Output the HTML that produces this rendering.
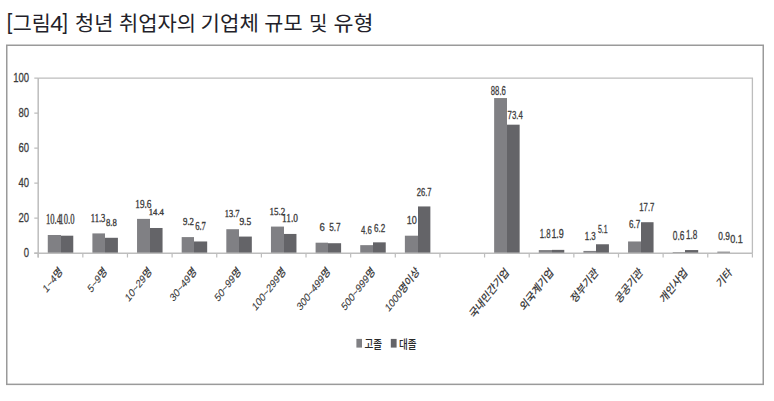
<!DOCTYPE html><html><head><meta charset="utf-8"><title>청년 취업자의 기업체 규모 및 유형</title><style>html,body{margin:0;padding:0;background:#fff;width:774px;height:401px;overflow:hidden}svg{display:block}</style></head><body>
<svg width="774" height="401" viewBox="0 0 774 401">
<rect width="774" height="401" fill="#fff"/>
<text x="6.68" y="28.60" font-family="'Liberation Sans',sans-serif" font-size="22.5" font-weight="400" fill="#231f2a" textLength="5.54" lengthAdjust="spacingAndGlyphs">[</text>
<text x="12.78" y="31.20" font-family="'Noto Sans CJK KR',sans-serif" font-size="20.5" font-weight="400" fill="#231f2a" textLength="38.07" lengthAdjust="spacingAndGlyphs">그림</text>
<text x="50.32" y="31.10" font-family="'Liberation Sans',sans-serif" font-size="22.3" font-weight="400" fill="#231f2a" textLength="12.84" lengthAdjust="spacingAndGlyphs">4</text>
<text x="62.62" y="28.60" font-family="'Liberation Sans',sans-serif" font-size="22.5" font-weight="400" fill="#231f2a" textLength="5.31" lengthAdjust="spacingAndGlyphs">]</text>
<text x="75.01" y="31.20" font-family="'Noto Sans CJK KR',sans-serif" font-size="20.5" font-weight="400" fill="#231f2a" textLength="38.35" lengthAdjust="spacingAndGlyphs">청년</text>
<text x="119.07" y="31.20" font-family="'Noto Sans CJK KR',sans-serif" font-size="20.5" font-weight="400" fill="#231f2a" textLength="77.09" lengthAdjust="spacingAndGlyphs">취업자의</text>
<text x="200.58" y="31.20" font-family="'Noto Sans CJK KR',sans-serif" font-size="20.5" font-weight="400" fill="#231f2a" textLength="58.24" lengthAdjust="spacingAndGlyphs">기업체</text>
<text x="264.38" y="31.20" font-family="'Noto Sans CJK KR',sans-serif" font-size="20.5" font-weight="400" fill="#231f2a" textLength="38.20" lengthAdjust="spacingAndGlyphs">규모</text>
<text x="309.02" y="31.20" font-family="'Noto Sans CJK KR',sans-serif" font-size="20.5" font-weight="400" fill="#231f2a" textLength="18.53" lengthAdjust="spacingAndGlyphs">및</text>
<text x="333.51" y="31.20" font-family="'Noto Sans CJK KR',sans-serif" font-size="20.5" font-weight="400" fill="#231f2a" textLength="40.02" lengthAdjust="spacingAndGlyphs">유형</text>
<rect x="6.75" y="45.25" width="756.5" height="339.1" fill="none" stroke="#9a9a9a" stroke-width="1.5"/>
<path d="M38.2 78.1H752.4V253.2" fill="none" stroke="#bdbdbd" stroke-width="1.3"/>
<rect x="47.77" y="234.99" width="13.23" height="18.21" fill="#808084"/>
<rect x="61.00" y="235.69" width="12.27" height="17.51" fill="#646468"/>
<rect x="92.40" y="233.41" width="12.60" height="19.79" fill="#808084"/>
<rect x="105.00" y="237.79" width="12.91" height="15.41" fill="#646468"/>
<rect x="137.04" y="218.88" width="12.96" height="34.32" fill="#808084"/>
<rect x="150.00" y="227.99" width="12.55" height="25.21" fill="#646468"/>
<rect x="181.68" y="237.09" width="12.32" height="16.11" fill="#808084"/>
<rect x="194.00" y="241.47" width="13.18" height="11.73" fill="#646468"/>
<rect x="226.32" y="229.21" width="12.68" height="23.99" fill="#808084"/>
<rect x="239.00" y="236.57" width="12.82" height="16.63" fill="#646468"/>
<rect x="270.95" y="226.58" width="13.05" height="26.62" fill="#808084"/>
<rect x="284.00" y="233.94" width="12.46" height="19.26" fill="#646468"/>
<rect x="315.59" y="242.69" width="12.41" height="10.51" fill="#808084"/>
<rect x="328.00" y="243.22" width="13.10" height="9.98" fill="#646468"/>
<rect x="360.23" y="245.15" width="12.77" height="8.05" fill="#808084"/>
<rect x="373.00" y="242.34" width="12.73" height="10.86" fill="#646468"/>
<rect x="404.87" y="235.69" width="13.13" height="17.51" fill="#808084"/>
<rect x="418.00" y="206.45" width="12.37" height="46.75" fill="#646468"/>
<rect x="494.14" y="98.06" width="12.86" height="155.14" fill="#808084"/>
<rect x="507.00" y="124.68" width="12.65" height="128.52" fill="#646468"/>
<rect x="538.78" y="250.05" width="13.22" height="3.15" fill="#808084"/>
<rect x="552.00" y="249.87" width="12.28" height="3.33" fill="#646468"/>
<rect x="583.42" y="250.92" width="12.58" height="2.28" fill="#808084"/>
<rect x="596.00" y="244.27" width="12.92" height="8.93" fill="#646468"/>
<rect x="628.05" y="241.47" width="12.95" height="11.73" fill="#808084"/>
<rect x="641.00" y="222.21" width="12.56" height="30.99" fill="#646468"/>
<rect x="672.69" y="252.15" width="12.31" height="1.05" fill="#808084"/>
<rect x="685.00" y="250.05" width="13.20" height="3.15" fill="#646468"/>
<rect x="717.33" y="251.62" width="12.67" height="1.58" fill="#808084"/>
<rect x="730.00" y="253.02" width="12.83" height="0.18" fill="#646468"/>
<path d="M38.2 78.1V257.59999999999997M34.300000000000004 253.2H752.4" fill="none" stroke="#bdbdbd" stroke-width="1.5"/>
<path d="M34.300000000000004 253.20H38.2M34.300000000000004 218.18H38.2M34.300000000000004 183.16H38.2M34.300000000000004 148.14H38.2M34.300000000000004 113.12H38.2M34.300000000000004 78.10H38.2M38.20 253.2V257.59999999999997M82.84 253.2V257.59999999999997M127.47 253.2V257.59999999999997M172.11 253.2V257.59999999999997M216.75 253.2V257.59999999999997M261.39 253.2V257.59999999999997M306.02 253.2V257.59999999999997M350.66 253.2V257.59999999999997M395.30 253.2V257.59999999999997M439.94 253.2V257.59999999999997M484.57 253.2V257.59999999999997M529.21 253.2V257.59999999999997M573.85 253.2V257.59999999999997M618.49 253.2V257.59999999999997M663.12 253.2V257.59999999999997M707.76 253.2V257.59999999999997M752.40 253.2V257.59999999999997" fill="none" stroke="#bdbdbd" stroke-width="1.2"/>
<text transform="translate(29.10 256.70) scale(0.72 1)" text-anchor="end" font-family="'Liberation Sans','Noto Sans CJK KR',sans-serif" font-size="13.2" fill="#3a3a3a" stroke="#3a3a3a" stroke-width="0.3">0</text>
<text transform="translate(29.10 221.68) scale(0.72 1)" text-anchor="end" font-family="'Liberation Sans','Noto Sans CJK KR',sans-serif" font-size="13.2" fill="#3a3a3a" stroke="#3a3a3a" stroke-width="0.3">20</text>
<text transform="translate(29.10 186.66) scale(0.72 1)" text-anchor="end" font-family="'Liberation Sans','Noto Sans CJK KR',sans-serif" font-size="13.2" fill="#3a3a3a" stroke="#3a3a3a" stroke-width="0.3">40</text>
<text transform="translate(29.10 151.64) scale(0.72 1)" text-anchor="end" font-family="'Liberation Sans','Noto Sans CJK KR',sans-serif" font-size="13.2" fill="#3a3a3a" stroke="#3a3a3a" stroke-width="0.3">60</text>
<text transform="translate(29.10 116.62) scale(0.72 1)" text-anchor="end" font-family="'Liberation Sans','Noto Sans CJK KR',sans-serif" font-size="13.2" fill="#3a3a3a" stroke="#3a3a3a" stroke-width="0.3">80</text>
<text transform="translate(29.10 81.60) scale(0.72 1)" text-anchor="end" font-family="'Liberation Sans','Noto Sans CJK KR',sans-serif" font-size="13.2" fill="#3a3a3a" stroke="#3a3a3a" stroke-width="0.3">100</text>
<text x="45.92" y="224.40" font-family="'Liberation Serif',serif" font-size="14.17" fill="#3c3c3c" stroke="#3c3c3c" stroke-width="0.35" textLength="15.08" lengthAdjust="spacingAndGlyphs">10.4</text>
<text x="59.37" y="224.40" font-family="'Liberation Serif',serif" font-size="14.17" fill="#3c3c3c" stroke="#3c3c3c" stroke-width="0.35" textLength="15.08" lengthAdjust="spacingAndGlyphs">10.0</text>
<text x="90.78" y="221.60" font-family="'Liberation Serif',serif" font-size="11.53" fill="#3c3c3c" stroke="#3c3c3c" stroke-width="0.35" textLength="14.63" lengthAdjust="spacingAndGlyphs">11.3</text>
<text x="106.00" y="226.00" font-family="'Liberation Serif',serif" font-size="11.23" fill="#3c3c3c" stroke="#3c3c3c" stroke-width="0.35" textLength="10.84" lengthAdjust="spacingAndGlyphs">8.8</text>
<text x="135.34" y="208.00" font-family="'Liberation Serif',serif" font-size="12.74" fill="#3c3c3c" stroke="#3c3c3c" stroke-width="0.35" textLength="16.07" lengthAdjust="spacingAndGlyphs">19.6</text>
<text x="148.78" y="215.41" font-family="'Liberation Serif',serif" font-size="8.50" fill="#3c3c3c" stroke="#3c3c3c" stroke-width="0.35" textLength="15.07" lengthAdjust="spacingAndGlyphs">14.4</text>
<text x="183.00" y="225.14" font-family="'Liberation Serif',serif" font-size="10.39" fill="#3c3c3c" stroke="#3c3c3c" stroke-width="0.35" textLength="11.00" lengthAdjust="spacingAndGlyphs">9.2</text>
<text x="195.18" y="229.61" font-family="'Liberation Serif',serif" font-size="13.38" fill="#3c3c3c" stroke="#3c3c3c" stroke-width="0.35" textLength="10.69" lengthAdjust="spacingAndGlyphs">6.7</text>
<text x="224.78" y="217.41" font-family="'Liberation Serif',serif" font-size="10.39" fill="#3c3c3c" stroke="#3c3c3c" stroke-width="0.35" textLength="14.63" lengthAdjust="spacingAndGlyphs">13.7</text>
<text x="239.39" y="225.14" font-family="'Liberation Serif',serif" font-size="10.39" fill="#3c3c3c" stroke="#3c3c3c" stroke-width="0.35" textLength="11.82" lengthAdjust="spacingAndGlyphs">9.5</text>
<text x="269.49" y="214.60" font-family="'Liberation Serif',serif" font-size="11.28" fill="#3c3c3c" stroke="#3c3c3c" stroke-width="0.35" textLength="15.75" lengthAdjust="spacingAndGlyphs">15.2</text>
<text x="281.93" y="222.41" font-family="'Liberation Serif',serif" font-size="12.74" fill="#3c3c3c" stroke="#3c3c3c" stroke-width="0.35" textLength="16.07" lengthAdjust="spacingAndGlyphs">11.0</text>
<text x="319.53" y="231.00" font-family="'Liberation Sans','Noto Sans CJK KR',sans-serif" font-size="11.51" fill="#3c3c3c" stroke="#3c3c3c" stroke-width="0.3" textLength="5.33" lengthAdjust="spacingAndGlyphs">6</text>
<text x="329.17" y="231.00" font-family="'Liberation Sans','Noto Sans CJK KR',sans-serif" font-size="11.51" fill="#3c3c3c" stroke="#3c3c3c" stroke-width="0.3" textLength="11.48" lengthAdjust="spacingAndGlyphs">5.7</text>
<text x="361.00" y="234.00" font-family="'Liberation Sans','Noto Sans CJK KR',sans-serif" font-size="10.62" fill="#3c3c3c" stroke="#3c3c3c" stroke-width="0.3" textLength="10.84" lengthAdjust="spacingAndGlyphs">4.6</text>
<text x="374.00" y="231.80" font-family="'Liberation Sans','Noto Sans CJK KR',sans-serif" font-size="10.62" fill="#3c3c3c" stroke="#3c3c3c" stroke-width="0.3" textLength="11.23" lengthAdjust="spacingAndGlyphs">6.2</text>
<text x="406.70" y="224.24" font-family="'Liberation Sans','Noto Sans CJK KR',sans-serif" font-size="11.51" fill="#3c3c3c" stroke="#3c3c3c" stroke-width="0.3" textLength="10.12" lengthAdjust="spacingAndGlyphs">10</text>
<text x="416.78" y="196.20" font-family="'Liberation Sans','Noto Sans CJK KR',sans-serif" font-size="10.10" fill="#3c3c3c" stroke="#3c3c3c" stroke-width="0.3" textLength="14.83" lengthAdjust="spacingAndGlyphs">26.7</text>
<text x="490.76" y="95.20" font-family="'Liberation Sans','Noto Sans CJK KR',sans-serif" font-size="12.57" fill="#3c3c3c" stroke="#3c3c3c" stroke-width="0.3" textLength="15.09" lengthAdjust="spacingAndGlyphs">88.6</text>
<text x="507.60" y="118.79" font-family="'Liberation Sans','Noto Sans CJK KR',sans-serif" font-size="10.96" fill="#3c3c3c" stroke="#3c3c3c" stroke-width="0.3" textLength="15.22" lengthAdjust="spacingAndGlyphs">73.4</text>
<text x="539.77" y="238.18" font-family="'Liberation Sans','Noto Sans CJK KR',sans-serif" font-size="12.13" fill="#3c3c3c" stroke="#3c3c3c" stroke-width="0.3" textLength="10.83" lengthAdjust="spacingAndGlyphs">1.8</text>
<text x="551.39" y="238.18" font-family="'Liberation Sans','Noto Sans CJK KR',sans-serif" font-size="12.13" fill="#3c3c3c" stroke="#3c3c3c" stroke-width="0.3" textLength="12.47" lengthAdjust="spacingAndGlyphs">1.9</text>
<text x="584.75" y="239.79" font-family="'Liberation Sans','Noto Sans CJK KR',sans-serif" font-size="10.10" fill="#3c3c3c" stroke="#3c3c3c" stroke-width="0.3" textLength="11.05" lengthAdjust="spacingAndGlyphs">1.3</text>
<text x="598.00" y="233.00" font-family="'Liberation Sans','Noto Sans CJK KR',sans-serif" font-size="11.64" fill="#3c3c3c" stroke="#3c3c3c" stroke-width="0.3" textLength="9.61" lengthAdjust="spacingAndGlyphs">5.1</text>
<text x="629.00" y="228.09" font-family="'Liberation Sans','Noto Sans CJK KR',sans-serif" font-size="10.33" fill="#3c3c3c" stroke="#3c3c3c" stroke-width="0.3" textLength="11.24" lengthAdjust="spacingAndGlyphs">6.7</text>
<text x="639.20" y="211.00" font-family="'Liberation Sans','Noto Sans CJK KR',sans-serif" font-size="11.25" fill="#3c3c3c" stroke="#3c3c3c" stroke-width="0.3" textLength="15.23" lengthAdjust="spacingAndGlyphs">17.7</text>
<text x="672.81" y="240.44" font-family="'Liberation Sans','Noto Sans CJK KR',sans-serif" font-size="12.35" fill="#3c3c3c" stroke="#3c3c3c" stroke-width="0.3" textLength="11.63" lengthAdjust="spacingAndGlyphs">0.6</text>
<text x="686.00" y="239.00" font-family="'Liberation Sans','Noto Sans CJK KR',sans-serif" font-size="12.07" fill="#3c3c3c" stroke="#3c3c3c" stroke-width="0.3" textLength="11.41" lengthAdjust="spacingAndGlyphs">1.8</text>
<text x="718.37" y="240.41" font-family="'Liberation Sans','Noto Sans CJK KR',sans-serif" font-size="10.10" fill="#3c3c3c" stroke="#3c3c3c" stroke-width="0.3" textLength="11.63" lengthAdjust="spacingAndGlyphs">0.9</text>
<text x="730.16" y="242.60" font-family="'Liberation Sans','Noto Sans CJK KR',sans-serif" font-size="10.62" fill="#3c3c3c" stroke="#3c3c3c" stroke-width="0.3" textLength="12.69" lengthAdjust="spacingAndGlyphs">0.1</text>
<text transform="translate(63.02 272.20) scale(0.78 1) rotate(-45)" text-anchor="end" font-family="'Liberation Sans','Noto Sans CJK KR',sans-serif" font-size="11.40" font-weight="500" fill="#383838" stroke="#383838" stroke-width="0.12">1~4명</text>
<text transform="translate(107.66 272.20) scale(0.78 1) rotate(-45)" text-anchor="end" font-family="'Liberation Sans','Noto Sans CJK KR',sans-serif" font-size="11.40" font-weight="500" fill="#383838" stroke="#383838" stroke-width="0.12">5~9명</text>
<text transform="translate(152.29 272.20) scale(0.78 1) rotate(-45)" text-anchor="end" font-family="'Liberation Sans','Noto Sans CJK KR',sans-serif" font-size="11.40" font-weight="500" fill="#383838" stroke="#383838" stroke-width="0.12">10~29명</text>
<text transform="translate(196.93 272.20) scale(0.78 1) rotate(-45)" text-anchor="end" font-family="'Liberation Sans','Noto Sans CJK KR',sans-serif" font-size="11.40" font-weight="500" fill="#383838" stroke="#383838" stroke-width="0.12">30~49명</text>
<text transform="translate(241.57 272.20) scale(0.78 1) rotate(-45)" text-anchor="end" font-family="'Liberation Sans','Noto Sans CJK KR',sans-serif" font-size="11.40" font-weight="500" fill="#383838" stroke="#383838" stroke-width="0.12">50~99명</text>
<text transform="translate(286.21 272.20) scale(0.78 1) rotate(-45)" text-anchor="end" font-family="'Liberation Sans','Noto Sans CJK KR',sans-serif" font-size="11.40" font-weight="500" fill="#383838" stroke="#383838" stroke-width="0.12">100~299명</text>
<text transform="translate(330.84 272.20) scale(0.78 1) rotate(-45)" text-anchor="end" font-family="'Liberation Sans','Noto Sans CJK KR',sans-serif" font-size="11.40" font-weight="500" fill="#383838" stroke="#383838" stroke-width="0.12">300~499명</text>
<text transform="translate(375.48 272.20) scale(0.78 1) rotate(-45)" text-anchor="end" font-family="'Liberation Sans','Noto Sans CJK KR',sans-serif" font-size="11.40" font-weight="500" fill="#383838" stroke="#383838" stroke-width="0.12">500~999명</text>
<text transform="translate(420.12 272.20) scale(0.78 1) rotate(-45)" text-anchor="end" font-family="'Liberation Sans','Noto Sans CJK KR',sans-serif" font-size="11.40" font-weight="500" fill="#383838" stroke="#383838" stroke-width="0.12">1000명이상</text>
<text transform="translate(509.39 273.00) scale(0.78 1) rotate(-45)" text-anchor="end" font-family="'Liberation Sans','Noto Sans CJK KR',sans-serif" font-size="11.80" font-weight="500" fill="#383838" stroke="#383838" stroke-width="0.12">국내민간기업</text>
<text transform="translate(554.03 273.00) scale(0.78 1) rotate(-45)" text-anchor="end" font-family="'Liberation Sans','Noto Sans CJK KR',sans-serif" font-size="11.80" font-weight="500" fill="#383838" stroke="#383838" stroke-width="0.12">외국계기업</text>
<text transform="translate(598.67 273.00) scale(0.78 1) rotate(-45)" text-anchor="end" font-family="'Liberation Sans','Noto Sans CJK KR',sans-serif" font-size="11.80" font-weight="500" fill="#383838" stroke="#383838" stroke-width="0.12">정부기관</text>
<text transform="translate(643.31 273.00) scale(0.78 1) rotate(-45)" text-anchor="end" font-family="'Liberation Sans','Noto Sans CJK KR',sans-serif" font-size="11.80" font-weight="500" fill="#383838" stroke="#383838" stroke-width="0.12">공공기관</text>
<text transform="translate(687.94 273.00) scale(0.78 1) rotate(-45)" text-anchor="end" font-family="'Liberation Sans','Noto Sans CJK KR',sans-serif" font-size="11.80" font-weight="500" fill="#383838" stroke="#383838" stroke-width="0.12">개인사업</text>
<text transform="translate(732.58 273.00) scale(0.78 1) rotate(-45)" text-anchor="end" font-family="'Liberation Sans','Noto Sans CJK KR',sans-serif" font-size="11.80" font-weight="500" fill="#383838" stroke="#383838" stroke-width="0.12">기타</text>
<rect x="356.4" y="338.9" width="5.6" height="8.7" fill="#808084"/>
<rect x="390.8" y="338.9" width="5.8" height="8.7" fill="#646468"/>
<text x="364.40" y="348.60" font-family="'Noto Sans CJK KR',sans-serif" font-size="12.50" font-weight="500" fill="#2a2a2a" textLength="17.60" lengthAdjust="spacingAndGlyphs">고졸</text>
<text x="399.00" y="348.60" font-family="'Noto Sans CJK KR',sans-serif" font-size="12.50" font-weight="500" fill="#2a2a2a" textLength="17.60" lengthAdjust="spacingAndGlyphs">대졸</text>
</svg></body></html>
